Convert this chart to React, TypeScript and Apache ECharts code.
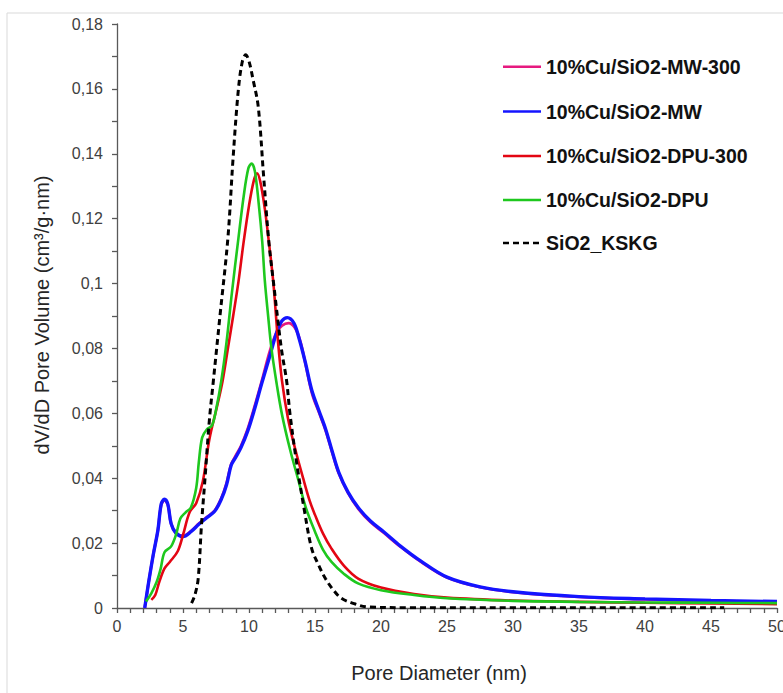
import React, { useEffect, useRef } from "react";
import * as echarts from "echarts";

const xTicks = { min: 0, max: 50, interval: 5 };
const yTicks = { min: 0, max: 0.18, interval: 0.02 };

const seriesNames = [
  "10%Cu/SiO2-MW-300",
  "10%Cu/SiO2-MW",
  "10%Cu/SiO2-DPU-300",
  "10%Cu/SiO2-DPU",
  "SiO2_KSKG",
];

const mw300X = [2.1, 2.4, 2.75, 3.1, 3.35, 3.6, 3.85, 4.1, 4.45, 5.0, 5.6, 6.2, 6.8, 7.4, 7.9, 8.3, 8.65, 9.0, 9.4, 9.9, 10.4, 10.95, 11.6, 12.1, 12.5, 13.0, 13.5, 13.9, 14.3, 14.8, 15.3, 15.8, 16.3, 16.8, 17.5, 18.3, 19.2, 20.2, 21.5, 23.0, 25.0, 27.5, 30.0, 35.0, 40.0, 45.0, 50.0];
const mw300Y = [0, 0.008, 0.0165, 0.024, 0.0318, 0.0332, 0.0318, 0.026, 0.0232, 0.0222, 0.0237, 0.026, 0.028, 0.03, 0.0338, 0.0385, 0.0443, 0.047, 0.05, 0.0552, 0.0618, 0.0697, 0.0795, 0.085, 0.087, 0.0878, 0.0862, 0.082, 0.0748, 0.0658, 0.0603, 0.0548, 0.048, 0.0415, 0.0355, 0.0305, 0.0265, 0.0232, 0.0188, 0.0143, 0.0094, 0.0064, 0.0049, 0.0034, 0.0027, 0.0022, 0.0019];

const mwX = [2.1, 2.4, 2.75, 3.1, 3.35, 3.6, 3.85, 4.1, 4.45, 5.0, 5.6, 6.2, 6.8, 7.4, 7.9, 8.3, 8.65, 9.0, 9.4, 9.9, 10.4, 10.95, 11.6, 12.1, 12.5, 12.9, 13.4, 13.8, 14.25, 14.75, 15.3, 15.8, 16.3, 16.8, 17.5, 18.3, 19.2, 20.2, 21.5, 23.0, 25.0, 27.5, 30.0, 35.0, 40.0, 45.0, 50.0];
const mwY = [0, 0.008, 0.0165, 0.024, 0.032, 0.0335, 0.032, 0.026, 0.0232, 0.022, 0.0235, 0.0258, 0.0278, 0.0298, 0.0335, 0.038, 0.044, 0.0465, 0.0495, 0.0545, 0.061, 0.069, 0.078, 0.085, 0.0885, 0.0895, 0.0878, 0.083, 0.076, 0.0672, 0.0608, 0.0552, 0.0483, 0.0418, 0.0357, 0.0308, 0.0268, 0.0235, 0.019, 0.0145, 0.0095, 0.0065, 0.005, 0.0035, 0.0028, 0.0023, 0.002];

const dpu300X = [2.6, 2.9, 3.2, 3.6, 4.0, 4.6, 5.0, 5.5, 6.0, 6.5, 7.0, 7.6, 8.0, 8.4, 8.8, 9.2, 9.6, 10.0, 10.35, 10.6, 10.85, 11.2, 11.5, 11.85, 12.2, 12.5, 12.95, 13.5, 14.1, 14.6, 15.0, 15.6, 16.25, 17.2, 18.3, 20.0, 22.5, 25.0, 30.0, 35.0, 40.0, 45.0, 50.0];
const dpu300Y = [0.0025, 0.004, 0.008, 0.0122, 0.0142, 0.0175, 0.0225, 0.0295, 0.0323, 0.039, 0.052, 0.0625, 0.07, 0.08, 0.09, 0.1005, 0.113, 0.124, 0.1315, 0.134, 0.1315, 0.123, 0.113, 0.1, 0.082, 0.07, 0.0585, 0.049, 0.04, 0.033, 0.0287, 0.023, 0.0183, 0.013, 0.009, 0.0063, 0.0043, 0.0032, 0.0023, 0.0019, 0.0016, 0.0014, 0.0012];

const dpuX = [2.2, 2.6, 3.0, 3.3, 3.6, 4.1, 4.5, 4.8, 5.2, 5.6, 6.0, 6.2, 6.45, 6.8, 7.2, 7.5, 7.9, 8.3, 8.7, 9.2, 9.6, 9.95, 10.2, 10.45, 10.75, 11.0, 11.2, 11.45, 11.7, 12.1, 12.5, 13.1, 13.7, 14.3, 15.0, 15.6, 16.25, 17.2, 18.3, 20.0, 22.5, 25.0, 30.0, 35.0, 40.0, 45.0, 50.0];
const dpuY = [0.002, 0.0045, 0.008, 0.012, 0.0172, 0.019, 0.023, 0.0276, 0.0295, 0.031, 0.037, 0.045, 0.0525, 0.055, 0.0563, 0.061, 0.07, 0.082, 0.097, 0.114, 0.127, 0.1355, 0.137, 0.1345, 0.124, 0.113, 0.1008, 0.09, 0.08, 0.069, 0.0596, 0.049, 0.04, 0.031, 0.0235, 0.018, 0.0142, 0.0105, 0.0075, 0.0055, 0.004, 0.003, 0.0022, 0.0019, 0.0017, 0.0016, 0.0015];

const ksX = [5.65, 5.9, 6.15, 6.4, 6.65, 7.0, 7.3, 7.8, 8.4, 8.8, 9.2, 9.5, 9.75, 10.0, 10.3, 10.7, 11.1, 11.5, 11.85, 12.45, 12.85, 13.1, 13.6, 14.2, 14.75, 15.3, 15.8, 16.4, 17.0, 18.0, 19.0, 22.0, 30.0, 40.0, 46.0];
const ksY = [0.0015, 0.004, 0.009, 0.0256, 0.039, 0.058, 0.07, 0.09, 0.114, 0.139, 0.16, 0.1685, 0.1705, 0.1685, 0.163, 0.1545, 0.1335, 0.113, 0.1005, 0.08, 0.07, 0.06, 0.045, 0.03, 0.0183, 0.013, 0.009, 0.0055, 0.003, 0.0013, 0.0003, 0.0001, 0.0001, 0.0001, 0.0001];

const seriesColors = ["#e6197f", "#1414ff", "#e30613", "#1ec81e", "#000000"];

const zip = (xs: number[], ys: number[]) => xs.map((x, i) => [x, ys[i]]);

const FONT = "'Liberation Sans', Arial, sans-serif";

export default function App() {
  const ref = useRef<HTMLDivElement>(null);
  useEffect(() => {
    document.documentElement.style.overflow = "hidden";
    document.body.style.margin = "0";
    if (!ref.current) return;
    const chart = echarts.init(ref.current, null, { renderer: "svg" });
    const datasets = [
      zip(mw300X, mw300Y),
      zip(mwX, mwY),
      zip(dpu300X, dpu300Y),
      zip(dpuX, dpuY),
      zip(ksX, ksY),
    ];
    const widths = [2.8, 3.4, 2.6, 2.6, 3];
    const legendRows = [66.7, 111.5, 156, 200, 243];
    const legendGraphics: any[] = [];
    seriesNames.forEach((name, i) => {
      legendGraphics.push({
        type: "line",
        silent: true,
        shape: { x1: 503, y1: legendRows[i], x2: 541, y2: legendRows[i] },
        style: {
          stroke: seriesColors[i],
          lineWidth: i === 4 ? 2.6 : 2.4,
          lineDash: i === 4 ? [6, 4] : null,
        },
      });
      legendGraphics.push({
        type: "text",
        x: 546,
        y: legendRows[i],
        style: {
          text: name,
          fontFamily: FONT,
          fontSize: 19.5,
          fontWeight: "bold",
          fill: "#111111",
          align: "left",
          verticalAlign: "middle",
        },
      });
    });
    chart.setOption({
      animation: false,
      backgroundColor: "#ffffff",
      grid: {
        left: 117,
        right: 6,
        top: 24,
        bottom: 85,
        containLabel: false,
        outerBoundsMode: "none",
      },
      xAxis: {
        type: "value",
        min: xTicks.min,
        max: xTicks.max,
        interval: xTicks.interval,
        axisLine: { show: true, onZero: false, lineStyle: { color: "#595959", width: 1.3 } },
        axisTick: { show: true, inside: false, length: 5, lineStyle: { color: "#595959", width: 1.3 } },
        minorTick: { show: true, splitNumber: 5, length: 5, lineStyle: { color: "#595959", width: 1.3 } },
        splitLine: { show: false },
        axisLabel: { margin: 10, fontFamily: FONT, fontSize: 16, color: "#404040" },
      },
      yAxis: {
        type: "value",
        min: yTicks.min,
        max: yTicks.max,
        interval: yTicks.interval,
        axisLine: { show: true, lineStyle: { color: "#595959", width: 1.3 } },
        axisTick: { show: true, inside: false, length: 5, lineStyle: { color: "#595959", width: 1.3 } },
        minorTick: { show: true, splitNumber: 2, length: 5, lineStyle: { color: "#595959", width: 1.3 } },
        splitLine: { show: false },
        axisLabel: {
          margin: 14,
          fontFamily: FONT,
          fontSize: 16,
          color: "#404040",
          formatter: (v: number) => String(Number(v.toFixed(2))).replace(".", ","),
        },
      },
      graphic: [
        {
          type: "rect",
          silent: true,
          z: -10,
          shape: { x: 7, y: 13, width: 800, height: 720 },
          style: { fill: "none", stroke: "#d9d9d9", lineWidth: 1 },
        },
        {
          type: "text",
          x: 439,
          y: 673,
          style: {
            text: "Pore Diameter (nm)",
            fontFamily: FONT,
            fontSize: 20,
            fill: "#262626",
            align: "center",
            verticalAlign: "middle",
          },
        },
        {
          type: "text",
          x: 42,
          y: 315,
          rotation: Math.PI / 2,
          style: {
            text: "dV/dD Pore Volume (cm³/g·nm)",
            fontFamily: FONT,
            fontSize: 20,
            fill: "#262626",
            align: "center",
            verticalAlign: "middle",
          },
        },
        ...legendGraphics,
      ],
      series: seriesNames.map((name, i) => ({
        name,
        type: "line",
        data: datasets[i],
        smooth: 0.35,
        symbol: "none",
        showSymbol: false,
        color: seriesColors[i],
        lineStyle: {
          color: seriesColors[i],
          width: widths[i],
          type: i === 4 ? [6, 4] : "solid",
        },
        z: 2 + i,
      })),
    });
    return () => chart.dispose();
  }, []);
  return (
    <div
      ref={ref}
      style={{ position: "fixed", left: 0, top: 0, width: 783, height: 693 }}
    />
  );
}
